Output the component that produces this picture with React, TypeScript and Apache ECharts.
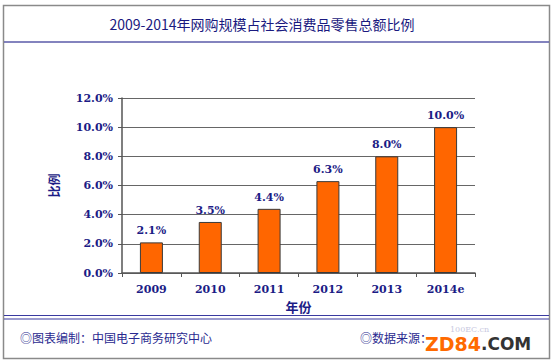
import React, { useEffect, useRef } from "react";
import * as echarts from "echarts";

const categories = ["2009", "2010", "2011", "2012", "2013", "2014e"];
const shareValues = [2.1, 3.5, 4.4, 6.3, 8.0, 10.0];
const titleText = "2009-2014年网购规模占社会消费品零售总额比例";
const yAxisName = "比例";
const xAxisName = "年份";
const footerLeft = "◎图表编制：中国电子商务研究中心";
const footerRight = "◎数据来源：";
const footerHidden = "100EC.cn";

const NAVY = "#1c1c86";
const CJK = "'Noto Sans CJK SC', 'DejaVu Sans', sans-serif";
const NUM = "'DejaVu Serif', 'Liberation Serif', serif";

export default function App() {
  const ref = useRef<HTMLDivElement>(null);
  useEffect(() => {
    if (!ref.current) return;
    const chart = echarts.init(ref.current, null, { renderer: "svg" });
    chart.setOption({
      animation: false,
      backgroundColor: "#ffffff",
      grid: { left: 122, right: 78, top: 98, bottom: 91, containLabel: false },
      xAxis: {
        type: "category",
        data: categories,
        name: xAxisName,
        nameLocation: "middle",
        nameGap: 27,
        nameTextStyle: { color: NAVY, fontSize: 13, fontWeight: "bold", fontFamily: CJK },
        axisLine: { lineStyle: { color: "#555", width: 1.5 } },
        axisTick: { show: true, length: 4, lineStyle: { color: "#555" } },
        axisLabel: { color: NAVY, fontSize: 11, fontWeight: "bold", fontFamily: NUM, margin: 11 },
      },
      yAxis: {
        type: "value",
        min: 0,
        max: 12,
        interval: 2,
        name: yAxisName,
        nameLocation: "middle",
        nameGap: 63,
        nameTextStyle: { color: NAVY, fontSize: 12, fontWeight: "bold", fontFamily: CJK },
        axisLine: { show: true, lineStyle: { color: "#555", width: 1.5 } },
        axisTick: { show: true, length: 4, lineStyle: { color: "#555" } },
        splitLine: { lineStyle: { color: "#666", width: 1 } },
        axisLabel: {
          color: NAVY,
          fontSize: 11,
          fontWeight: "bold",
          fontFamily: NUM,
          margin: 9,
          formatter: (v: number) => v.toFixed(1) + "%",
        },
      },
      series: [
        {
          type: "bar",
          data: shareValues,
          barWidth: 23,
          itemStyle: { color: "#ff6600", borderColor: "#3a3a3a", borderWidth: 1 },
          label: {
            show: true,
            position: "top",
            distance: 6,
            color: NAVY,
            fontSize: 11,
            fontWeight: "bold",
            fontFamily: NUM,
            formatter: (p: any) => Number(p.value).toFixed(1) + "%",
          },
        },
      ],
      graphic: [
        {
          type: "rect",
          shape: { x: 3.5, y: 5.5, width: 546, height: 353 },
          style: { fill: "none", stroke: "#8a8a8a", lineWidth: 1.5 },
          silent: true,
        },
        {
          type: "line",
          shape: { x1: 4, y1: 42, x2: 549, y2: 42 },
          style: { stroke: "#5a5aa8", lineWidth: 1.5 },
        },
        {
          type: "line",
          shape: { x1: 4, y1: 315.5, x2: 549, y2: 315.5 },
          style: { stroke: "#3a3aa0", lineWidth: 1.2 },
        },
        {
          type: "line",
          shape: { x1: 4, y1: 319, x2: 549, y2: 319 },
          style: { stroke: "#3a3aa0", lineWidth: 1.2 },
        },
        {
          type: "text",
          x: 262,
          y: 24,
          style: {
            text: titleText,
            fill: "#1a1a80",
            font: `14px ${CJK}`,
            align: "center",
            verticalAlign: "middle",
          },
        },
        {
          type: "text",
          x: 20,
          y: 337,
          style: {
            text: footerLeft,
            fill: "#2a2a90",
            font: `12px ${CJK}`,
            align: "left",
            verticalAlign: "middle",
          },
        },
        {
          type: "text",
          x: 360,
          y: 337,
          style: {
            text: footerRight,
            fill: "#2a2a90",
            font: `12px ${CJK}`,
            align: "left",
            verticalAlign: "middle",
          },
        },
        {
          type: "text",
          x: 450,
          y: 329,
          style: {
            text: footerHidden,
            fill: "#c8c8e0",
            font: `8px ${NUM}`,
            align: "left",
            verticalAlign: "middle",
          },
        },
        {
          type: "text",
          x: 425,
          y: 344,
          style: {
            text: "{a|ZD84}{b|.COM}",
            align: "left",
            verticalAlign: "middle",
            rich: {
              a: { fill: "#ff6a00", fontSize: 19, fontWeight: "bold", fontFamily: "'DejaVu Sans', sans-serif" },
              b: { fill: "#333333", fontSize: 17, fontWeight: "bold", fontFamily: "'DejaVu Sans', sans-serif" },
            },
          },
        },
      ],
    });
    return () => chart.dispose();
  }, []);
  return (
    <div
      ref={ref}
      style={{ position: "fixed", left: 0, top: 0, width: 553, height: 364 }}
    />
  );
}
